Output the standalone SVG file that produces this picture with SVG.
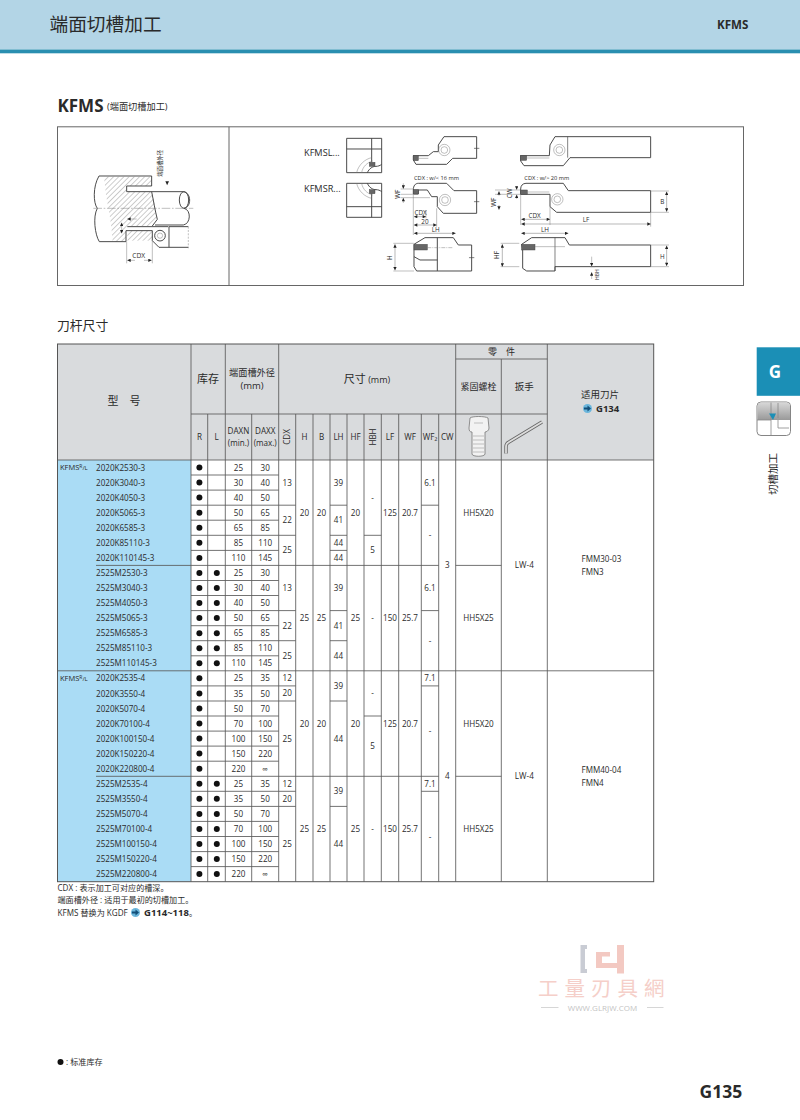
<svg xmlns="http://www.w3.org/2000/svg" width="800" height="1120" viewBox="0 0 800 1120">
<style>
text{font-family:"Open Sans","Noto Sans CJK SC",sans-serif;fill:#2a2a2a;font-size:8.1px}
.c{text-anchor:middle}
.h{font-size:9.5px}
.b{font-weight:700}
.g{fill:#d9dbdd}
.l{stroke:#5a5a5a;stroke-width:.85;fill:none}
.o{fill:#fff;stroke:#444;stroke-width:2.9;stroke-linejoin:round}
.t{fill:none;stroke:#444;stroke-width:2.9;stroke-linejoin:round}
.n{fill:none;stroke:#777;stroke-width:1.4}
.m{fill:none;stroke:#666;stroke-width:1.4;marker-start:url(#a);marker-end:url(#a)}
.i{fill:#666;stroke:#444;stroke-width:1.4}
.z{font-size:20px}
.y{font-size:19px}
</style>
<defs>
<marker id="a" viewBox="0 0 10 10" refX="10" refY="5" markerWidth="12" markerHeight="10" markerUnits="userSpaceOnUse" orient="auto-start-reverse"><path d="M0 0L10 5L0 10z" fill="#222"/></marker>
<pattern id="hatch" width="11" height="11" patternUnits="userSpaceOnUse" patternTransform="rotate(45)"><rect width="11" height="11" fill="#fff"/><path d="M0 0V11" stroke="#777" stroke-width="2.2"/></pattern>
<linearGradient id="ig" x1="0" y1="0" x2="0" y2="1"><stop offset="0" stop-color="#d8d8d8"/><stop offset="1" stop-color="#999"/></linearGradient>
</defs>
<rect width="800" height="1120" fill="#fff"/>

<g id="page-header">
<rect width="800" height="49.5" fill="#b3d5e6"/>
<rect y="49.5" width="800" height="3.8" fill="#2a8fb0"/>
<text x="49.5" y="31" style="font-size:18.7px">端面切槽加工</text>
<text x="717" y="29" class="b" style="font-size:11.6px">KFMS</text>
<text x="57.5" y="112" class="b" style="font-size:17px">KFMS</text>
<text x="107" y="110" style="font-size:9.2px">(端面切槽加工)</text>
</g>

<g id="drawing-frame">
<rect x="57.5" y="126.8" width="686" height="158.7" fill="#fff" stroke="#666" stroke-width="1"/>
<path d="M229 126.8V285.5" stroke="#666" stroke-width="1"/>
</g>

<g id="drawing-setup" transform="translate(40 120) scale(.3333)">
<path d="M192 170H335V198H260V215H335L342 240L346 270L352 298L337 318H262L258 335V365H218L214 320L208 280L198 225Z" fill="url(#hatch)"/>
<path d="M262 332H337V362H262Z" fill="url(#hatch)"/>
<path class="t" d="M177 168H335V198H260V215H430M430 215C455 218 455 262 432 265C455 270 452 312 430 315H345M335 215C340 240 345 270 352 298L337 318M177 168C158 200 160 250 172 265C158 290 165 345 178 365H258V332"/>
<ellipse class="t" cx="432" cy="240" rx="14" ry="25"/>
<path class="n" d="M160 265H460" stroke-dasharray="26 5 5 5"/>
<path class="t" d="M262 320H385M258 332H337V362L357 382H387V320H445M387 382H445"/>
<path class="n" d="M445 320V385" stroke-dasharray="6 4"/>
<circle class="t" cx="360" cy="347" r="16"/><circle class="n" cx="360" cy="347" r="8"/>
<path class="n" d="M260 365V430M337 362V430"/>
<path class="n" d="M262 421H285" marker-start="url(#a)"/>
<path class="n" d="M312 421H335" marker-end="url(#a)"/>
<path class="n" d="M245 308V340" marker-start="url(#a)" marker-end="url(#a)"/>
<path class="n" d="M262 297H290" marker-start="url(#a)"/>
<path d="M376 184H387L381.5 196z" fill="#222"/>
<text class="c z" x="296" y="414">CDX</text>
<text transform="translate(366 170) rotate(-90)" style="font-size:16px">端面槽外径</text>
</g>

<g id="drawing-labels">
<text x="304" y="155.5" style="font-size:9.2px">KFMSL...</text>
<text x="304" y="192" style="font-size:9.2px">KFMSR...</text>
</g>

<g id="drawing-blocks" transform="translate(290 125) scale(.3333)">
<rect class="o" x="170" y="40" width="105" height="103"/>
<path class="t" d="M170 72H275M245 40V112"/>
<path class="n" d="M200 143C205 120 225 102 245 98M215 143C218 125 232 112 248 108"/>
<path class="t" d="M232 143C238 130 248 124 258 124C264 124 270 122 275 118"/>
<rect class="i" x="238" y="112" width="17" height="12"/>
<rect class="o" x="170" y="175" width="105" height="102"/>
<path class="t" d="M170 245H275M245 205V277"/>
<path class="n" d="M200 175C205 198 225 216 245 220M215 175C218 193 232 206 248 210"/>
<path class="t" d="M232 175C238 188 248 194 258 194C264 194 270 196 275 200"/>
<rect class="i" x="238" y="194" width="17" height="12"/>
</g>

<g id="drawing-small" transform="translate(290 125) scale(.3333)">
<path class="o" d="M462 35H560V100H488L470 118H378L370 105V92H415L430 80H445V60Z"/>
<rect class="i" x="370" y="92" width="15" height="15"/>
<path class="n" d="M385 100H415"/>
<circle class="n" cx="463" cy="75" r="17"/><circle class="n" cx="463" cy="75" r="10"/>
<path class="t" d="M552 70H568" style="stroke-width:2"/>
<path class="o" d="M370 195C370 182 376 175 385 175H470L492 197H560V265H460L442 245V215H425L412 195H385V207H370Z"/>
<rect class="i" x="370" y="193" width="15" height="14"/>
<circle class="n" cx="465" cy="225" r="17"/><circle class="n" cx="465" cy="225" r="10"/>
<path class="t" d="M552 230H568" style="stroke-width:2"/>
<path class="n" d="M332 192H370M332 208H370M332 218H420"/>
<path class="n" d="M340 175V191" marker-end="url(#a)"/>
<path class="n" d="M340 219V234" marker-start="url(#a)"/>
<path class="n" d="M370 208V330M408 255V280M440 250V305"/>
<path class="m" d="M372 275H408"/>
<path class="m" d="M372 300H440"/>
<path class="m" d="M372 325H497"/>
<path class="o" d="M372 358L405 338H490L505 360H545V438H380L372 425V358Z"/>
<path class="t" d="M442 338V438M372 395L390 405H442"/>
<rect class="i" x="372" y="358" width="40" height="17"/>
<path class="n" d="M412 368H490" stroke-dasharray="12 3 3 3"/>
<path class="t" d="M537 398H553" style="stroke-width:2"/>
<path class="n" d="M310 355H372M310 438H372"/>
<path class="m" d="M315 358V436"/>
<text x="372" y="164" style="font-size:17px">CDX : w/&lt; 16 mm</text>
<text class="y c" x="392" y="269">CDX</text>
<text class="y c" x="405" y="296">20</text>
<text class="y c" x="437" y="321">LH</text>
<text class="y c" transform="translate(331 208) rotate(-90)">WF</text>
<text class="y c" transform="translate(307 398) rotate(-90)">H</text>
<text class="y c" transform="translate(617 232) rotate(-90)">WF</text>
<text class="y c" transform="translate(627 390) rotate(-90)">HF</text>
<path class="n" d="M627 212V199" marker-end="url(#a)"/>
<path class="n" d="M627 240V254" marker-end="url(#a)"/>
<path class="m" d="M637 358V425"/>
<path class="n" d="M632 355H688M632 425H688"/>
</g>

<g id="drawing-large" transform="translate(500 125) scale(.3333)">
<path class="o" d="M165 35H452V98H210L190 122H72L62 108V92H148L150 60Z"/>
<rect class="i" x="62" y="92" width="18" height="14"/>
<path class="n" d="M80 99H148"/>
<path class="t" d="M203 35V98" style="stroke-width:2"/>
<circle class="n" cx="178" cy="75" r="17"/><circle class="n" cx="178" cy="75" r="10"/>
<path class="o" d="M62 192C62 182 68 175 78 175H190L205 197H452V262H170L150 245V208H62Z"/>
<rect class="i" x="62" y="195" width="20" height="13"/>
<path class="n" d="M82 201H148"/>
<circle class="n" cx="172" cy="223" r="17"/><circle class="n" cx="172" cy="223" r="10"/>
<path class="n" d="M-15 195H62M-15 208H62M62 208V300M150 245V300M452 262V305M452 198H507M452 262H507"/>
<path class="n" d="M50 183V194" marker-end="url(#a)"/>
<path class="n" d="M50 209V222" marker-start="url(#a)"/>
<path class="m" d="M500 200V260"/>
<path class="m" d="M64 283H150"/>
<path class="m" d="M64 297H452"/>
<path class="m" d="M64 325H205"/>
<path class="o" d="M65 358L95 338H195L208 360H452V425H165V438H80L68 430V375Z"/>
<path class="t" d="M165 338V438" style="stroke-width:2"/>
<rect class="i" x="65" y="358" width="40" height="17"/>
<path class="n" d="M105 365H195M452 360H507M452 425H507M270 425H285"/>
<path class="m" d="M500 362V423"/>
<path class="n" d="M275 395V424" marker-end="url(#a)"/>
<path class="n" d="M275 462V442" marker-end="url(#a)"/>
<text x="73" y="164" style="font-size:17px">CDX : w/&gt; 20 mm</text>
<text class="y c" x="104" y="278">CDX</text>
<text class="y c" x="258" y="290">LF</text>
<text class="y c" x="135" y="321">LH</text>
<text class="y c" x="487" y="238">B</text>
<text class="y c" x="487" y="401">H</text>
<text class="y c" transform="translate(37 205) rotate(-90)">CW</text>
<text class="y c" transform="translate(298 449) rotate(-90)" style="font-size:15px">HBH</text>
</g>

<text x="57" y="330" style="font-size:12.8px">刀杆尺寸</text>

<g id="table-fills">
<rect x="57.5" y="344" width="596.2" height="116" class="g"/>
<rect x="57.5" y="460" width="133.5" height="421.7" fill="#aadcf5"/>
<rect x="191" y="460" width="462.7" height="421.7" fill="#fff"/>
</g>

<g id="table-lines">
<path class="l" d="M191 344V881.7M207.7 414V881.7M225.3 344V881.7M251.7 414V881.7M278.7 344V881.7M295.7 414V881.7M313 414V881.7M330 414V881.7M347 414V881.7M364 414V881.7M381.3 414V881.7M398.7 414V881.7M421.3 414V881.7M438.7 414V881.7M455.7 344V881.7M501.3 359V881.7M547.3 344V881.7"/>
<path class="l" d="M57.5 460H653.7M191 414H547.3M455.7 359H547.3"/>
<path class="l" d="M191 475H278.7M191 490.1H278.7M191 505.2H278.7M191 520.2H278.7M191 535.3H278.7M191 550.4H278.7M191 580.5H278.7M191 595.5H278.7M191 610.6H278.7M191 625.7H278.7M191 640.7H278.7M191 655.8H278.7M191 685.9H278.7M191 701H278.7M191 716H278.7M191 731.1H278.7M191 746.1H278.7M191 761.2H278.7M191 791.3H278.7M191 806.4H278.7M191 821.4H278.7M191 836.5H278.7M191 851.6H278.7M191 866.6H278.7"/>
<path class="l" d="M96 565.4H438.7M455.7 565.4H501.3M57.5 670.8H653.7M96 776.3H438.7M455.7 776.3H501.3"/>
<path class="l" d="M278.7 505.2H295.7M278.7 535.3H295.7M278.7 610.6H295.7M278.7 640.7H295.7M278.7 685.9H295.7M278.7 701H295.7M278.7 791.3H295.7M278.7 806.4H295.7"/>
<path class="l" d="M330 505.2H347M330 535.3H347M330 550.4H347M330 610.6H347M330 640.7H347M330 701H347M330 806.4H347"/>
<path class="l" d="M364 535.3H381.3M364 716H381.3"/>
<path class="l" d="M421.3 505.2H438.7M421.3 610.6H438.7M421.3 685.9H438.7M421.3 791.3H438.7"/>
<rect x="57.5" y="344" width="596.2" height="537.7" fill="none" stroke="#555" stroke-width="1"/>
</g>

<g id="table-header">
<text class="c" x="124" y="405" style="font-size:11px">型　号</text>
<text class="c" x="208" y="383" style="font-size:11px">库存</text>
<text class="c" x="252" y="376" style="font-size:9.2px">端面槽外径</text>
<text class="c h" x="252" y="389">(mm)</text>
<text class="c" x="367" y="383" style="font-size:11px">尺寸<tspan style="font-size:9px"> (mm)</tspan></text>
<text class="c" x="501.5" y="355" style="font-size:9px">零　件</text>
<text class="c" x="478.5" y="390" style="font-size:9px">紧固螺栓</text>
<text class="c" x="524.3" y="390" style="font-size:9.5px">扳手</text>
<text class="c" x="600" y="398" style="font-size:9.5px">适用刀片</text>
<circle cx="587.5" cy="408.5" r="4.5" fill="#6bb6dc"/><path d="M584 407.5H587.5V405.5L591 408.5L587.5 411.5V409.5H584z" fill="#124e78"/>
<text x="596" y="412" class="b" style="font-size:9.5px">G134</text>
<g>
<text class="c" x="199.4" y="440">R</text><text class="c" x="216.5" y="440">L</text>
<text class="c" x="238.5" y="434">DAXN</text><text class="c" x="238.5" y="446">(min.)</text>
<text class="c" x="265.2" y="434">DAXX</text><text class="c" x="265.2" y="446">(max.)</text>
<text class="c" transform="translate(290 437) rotate(-90)">CDX</text>
<text class="c" x="304.4" y="440">H</text><text class="c" x="321.5" y="440">B</text><text class="c" x="338.5" y="440">LH</text><text class="c" x="355.5" y="440">HF</text>
<text class="c" transform="translate(375.5 437) rotate(-90)">HBH</text>
<text class="c" x="390" y="440">LF</text><text class="c" x="410" y="440">WF</text><text class="c" x="430" y="440">WF₂</text><text class="c" x="447.2" y="440">CW</text>
</g>
<g id="bolt-icon">
<path d="M470 418C472 416 485 416 488 418L489 428C489 431 486 432 485 432V454C485 457 472 457 472 454V432C470 432 469 431 469 428Z" fill="#f2f2f2" stroke="#777" stroke-width=".8"/>
<path d="M473 436H484M473 440H484M473 444H484M473 448H484M473 452H484M474 423H483" stroke="#aaa" stroke-width=".7"/>
</g>
<g id="wrench-icon">
<path d="M506 453.5V446.5Q506 443.5 509 442L542 422" fill="none" stroke="#666" stroke-width="3.4"/>
<path d="M506 453.5V446.5Q506 443.5 509 442L542 422" fill="none" stroke="#ddd" stroke-width="1.8"/>
</g>
</g>

<g id="table-model">
<text x="60" y="470" style="font-size:7.5px">KFMS<tspan dy="-2" style="font-size:5px">R</tspan><tspan dy="2" style="font-size:6px">/L</tspan></text>
<text x="60" y="680.8" style="font-size:7.5px">KFMS<tspan dy="-2" style="font-size:5px">R</tspan><tspan dy="2" style="font-size:6px">/L</tspan></text>
<text x="96" y="470.6">2020K2530-3</text><text x="96" y="485.7">2020K3040-3</text><text x="96" y="500.7">2020K4050-3</text><text x="96" y="515.8">2020K5065-3</text><text x="96" y="530.8">2020K6585-3</text><text x="96" y="545.9">2020K85110-3</text><text x="96" y="561">2020K110145-3</text>
<text x="96" y="576">2525M2530-3</text><text x="96" y="591.1">2525M3040-3</text><text x="96" y="606.1">2525M4050-3</text><text x="96" y="621.2">2525M5065-3</text><text x="96" y="636.3">2525M6585-3</text><text x="96" y="651.3">2525M85110-3</text><text x="96" y="666.4">2525M110145-3</text>
<text x="96" y="681.4">2020K2535-4</text><text x="96" y="696.5">2020K3550-4</text><text x="96" y="711.6">2020K5070-4</text><text x="96" y="726.6">2020K70100-4</text><text x="96" y="741.7">2020K100150-4</text><text x="96" y="756.7">2020K150220-4</text><text x="96" y="771.8">2020K220800-4</text>
<text x="96" y="786.9">2525M2535-4</text><text x="96" y="801.9">2525M3550-4</text><text x="96" y="817">2525M5070-4</text><text x="96" y="832">2525M70100-4</text><text x="96" y="847.1">2525M100150-4</text><text x="96" y="862.2">2525M150220-4</text><text x="96" y="877.2">2525M220800-4</text>
</g>

<g id="table-stock" fill="#111">
<circle cx="199.4" cy="467.5" r="3"/><circle cx="199.4" cy="482.5" r="3"/><circle cx="199.4" cy="497.6" r="3"/><circle cx="199.4" cy="512.7" r="3"/><circle cx="199.4" cy="527.7" r="3"/><circle cx="199.4" cy="542.8" r="3"/><circle cx="199.4" cy="557.9" r="3"/>
<circle cx="199.4" cy="572.9" r="3"/><circle cx="199.4" cy="588" r="3"/><circle cx="199.4" cy="603" r="3"/><circle cx="199.4" cy="618.1" r="3"/><circle cx="199.4" cy="633.2" r="3"/><circle cx="199.4" cy="648.2" r="3"/><circle cx="199.4" cy="663.3" r="3"/>
<circle cx="199.4" cy="678.3" r="3"/><circle cx="199.4" cy="693.4" r="3"/><circle cx="199.4" cy="708.5" r="3"/><circle cx="199.4" cy="723.5" r="3"/><circle cx="199.4" cy="738.6" r="3"/><circle cx="199.4" cy="753.6" r="3"/><circle cx="199.4" cy="768.7" r="3"/>
<circle cx="199.4" cy="783.8" r="3"/><circle cx="199.4" cy="798.8" r="3"/><circle cx="199.4" cy="813.9" r="3"/><circle cx="199.4" cy="828.9" r="3"/><circle cx="199.4" cy="844" r="3"/><circle cx="199.4" cy="859.1" r="3"/><circle cx="199.4" cy="874.1" r="3"/>
<circle cx="216.8" cy="572.9" r="3"/><circle cx="216.8" cy="588" r="3"/><circle cx="216.8" cy="603" r="3"/><circle cx="216.8" cy="618.1" r="3"/><circle cx="216.8" cy="633.2" r="3"/><circle cx="216.8" cy="648.2" r="3"/><circle cx="216.8" cy="663.3" r="3"/>
<circle cx="216.8" cy="783.8" r="3"/><circle cx="216.8" cy="798.8" r="3"/><circle cx="216.8" cy="813.9" r="3"/><circle cx="216.8" cy="828.9" r="3"/><circle cx="216.8" cy="844" r="3"/><circle cx="216.8" cy="859.1" r="3"/><circle cx="216.8" cy="874.1" r="3"/>
</g>

<g id="table-daxn" text-anchor="middle">
<text x="238.5" y="470.6">25</text><text x="238.5" y="485.7">30</text><text x="238.5" y="500.7">40</text><text x="238.5" y="515.8">50</text><text x="238.5" y="530.8">65</text><text x="238.5" y="545.9">85</text><text x="238.5" y="561">110</text>
<text x="238.5" y="576">25</text><text x="238.5" y="591.1">30</text><text x="238.5" y="606.1">40</text><text x="238.5" y="621.2">50</text><text x="238.5" y="636.3">65</text><text x="238.5" y="651.3">85</text><text x="238.5" y="666.4">110</text>
<text x="238.5" y="681.4">25</text><text x="238.5" y="696.5">35</text><text x="238.5" y="711.6">50</text><text x="238.5" y="726.6">70</text><text x="238.5" y="741.7">100</text><text x="238.5" y="756.7">150</text><text x="238.5" y="771.8">220</text>
<text x="238.5" y="786.9">25</text><text x="238.5" y="801.9">35</text><text x="238.5" y="817">50</text><text x="238.5" y="832">70</text><text x="238.5" y="847.1">100</text><text x="238.5" y="862.2">150</text><text x="238.5" y="877.2">220</text>
</g>
<g id="table-daxx" text-anchor="middle">
<text x="265.2" y="470.6">30</text><text x="265.2" y="485.7">40</text><text x="265.2" y="500.7">50</text><text x="265.2" y="515.8">65</text><text x="265.2" y="530.8">85</text><text x="265.2" y="545.9">110</text><text x="265.2" y="561">145</text>
<text x="265.2" y="576">30</text><text x="265.2" y="591.1">40</text><text x="265.2" y="606.1">50</text><text x="265.2" y="621.2">65</text><text x="265.2" y="636.3">85</text><text x="265.2" y="651.3">110</text><text x="265.2" y="666.4">145</text>
<text x="265.2" y="681.4">35</text><text x="265.2" y="696.5">50</text><text x="265.2" y="711.6">70</text><text x="265.2" y="726.6">100</text><text x="265.2" y="741.7">150</text><text x="265.2" y="756.7">220</text><text x="265.2" y="771.8">∞</text>
<text x="265.2" y="786.9">35</text><text x="265.2" y="801.9">50</text><text x="265.2" y="817">70</text><text x="265.2" y="832">100</text><text x="265.2" y="847.1">150</text><text x="265.2" y="862.2">220</text><text x="265.2" y="877.2">∞</text>
</g>

<g id="table-merged" text-anchor="middle">
<text x="287.2" y="485.6">13</text><text x="287.2" y="523">22</text><text x="287.2" y="553.4">25</text><text x="287.2" y="591">13</text><text x="287.2" y="628.7">22</text><text x="287.2" y="658.8">25</text><text x="287.2" y="681.3">12</text><text x="287.2" y="696.4">20</text><text x="287.2" y="741.6">25</text><text x="287.2" y="786.8">12</text><text x="287.2" y="801.9">20</text><text x="287.2" y="847">25</text>
<text x="304.4" y="515.7">20</text><text x="304.4" y="621">25</text><text x="304.4" y="726.6">20</text><text x="304.4" y="832">25</text>
<text x="321.5" y="515.7">20</text><text x="321.5" y="621">25</text><text x="321.5" y="726.6">20</text><text x="321.5" y="832">25</text>
<text x="338.5" y="485.6">39</text><text x="338.5" y="523">41</text><text x="338.5" y="546">44</text><text x="338.5" y="561">44</text><text x="338.5" y="591">39</text><text x="338.5" y="628.7">41</text><text x="338.5" y="658.8">44</text><text x="338.5" y="688.9">39</text><text x="338.5" y="741.6">44</text><text x="338.5" y="794.3">39</text><text x="338.5" y="847">44</text>
<text x="355.5" y="515.7">20</text><text x="355.5" y="621">25</text><text x="355.5" y="726.6">20</text><text x="355.5" y="832">25</text>
<text x="372.6" y="500.7">-</text><text x="372.6" y="553.4">5</text><text x="372.6" y="621">-</text><text x="372.6" y="696.4">-</text><text x="372.6" y="749">5</text><text x="372.6" y="832">-</text>
<text x="390" y="515.7">125</text><text x="390" y="621">150</text><text x="390" y="726.6">125</text><text x="390" y="832">150</text>
<text x="410" y="515.7">20.7</text><text x="410" y="621">25.7</text><text x="410" y="726.6">20.7</text><text x="410" y="832">25.7</text>
<text x="430" y="485.6">6.1</text><text x="430" y="538.3">-</text><text x="430" y="591">6.1</text><text x="430" y="643.7">-</text><text x="430" y="681.3">7.1</text><text x="430" y="734">-</text><text x="430" y="786.8">7.1</text><text x="430" y="839.5">-</text>
<text x="447.2" y="568.4">3</text><text x="447.2" y="779.3">4</text>
<text x="478.5" y="515.7">HH5X20</text><text x="478.5" y="621">HH5X25</text><text x="478.5" y="726.6">HH5X20</text><text x="478.5" y="832">HH5X25</text>
<text x="524.3" y="568.4">LW-4</text><text x="524.3" y="779.3">LW-4</text>
</g>
<g id="table-inserts">
<text x="581.5" y="562">FMM30-03</text><text x="581.5" y="575">FMN3</text>
<text x="581.5" y="773">FMM40-04</text><text x="581.5" y="786">FMN4</text>
</g>

<g id="notes">
<text x="57.5" y="891">CDX : 表示加工可对应的槽深。</text>
<text x="57.5" y="903">端面槽外径 : 适用于最初的切槽加工。</text>
<text x="57.5" y="915.5">KFMS 替换为 KGDF</text>
<circle cx="135.5" cy="912.5" r="4.5" fill="#6bb6dc"/><path d="M132 911.5H135.5V909.5L139 912.5L135.5 915.5V913.5H132z" fill="#124e78"/>
<text x="144" y="915.5" class="b" style="font-size:9.5px">G114~118<tspan style="font-weight:400;font-size:8px">。</tspan></text>
<circle cx="60.5" cy="1062" r="3" fill="#111"/>
<text x="66" y="1065"> : 标准库存</text>
<text x="699.5" y="1098" class="b" style="font-size:17.5px">G135</text>
</g>

<g id="side-tab">
<rect x="756.7" y="347.3" width="43.3" height="48.5" fill="#1b8fb6"/>
<text x="775" y="378" class="c b" style="font-size:17px;fill:#fff">G</text>
<rect x="757" y="402" width="33.5" height="33.5" rx="4" fill="#fff" stroke="#777" stroke-width=".9"/>
<path d="M757.5 406Q757.5 402.5 761 402.5H786.5Q790 402.5 790 406V420H757.5z" fill="url(#ig)"/>
<path d="M771 402.5V435M778 403V418M771 420H757M778 420V428H789" stroke="#888" stroke-width=".8" fill="none"/>
<path d="M769 413.5H776L773 420z" fill="#1b8fb6"/>
<text transform="translate(777 495) rotate(-90)" style="font-size:10.5px">切槽加工</text>
</g>

<g id="watermark">
<path d="M580.5 945H587V949H585V969H587V973H580.5z" fill="#c9ccd4"/>
<path d="M596 952H610V956.5H602V963H617V945H624V973.5H617V968H596z" fill="#f3c9c2"/>
<text x="538" y="996" style="font-size:20.5px;letter-spacing:6px;fill:#f5cfc9">工量刃具網</text>
<path d="M541 1007.5H558.5M647 1007.5H663.5" stroke="#ccc" stroke-width=".8"/>
<text x="602.5" y="1010.5" class="c" style="font-size:8px;fill:#c4c4c4">WWW.GLRJW.COM</text>
</g>
</svg>
